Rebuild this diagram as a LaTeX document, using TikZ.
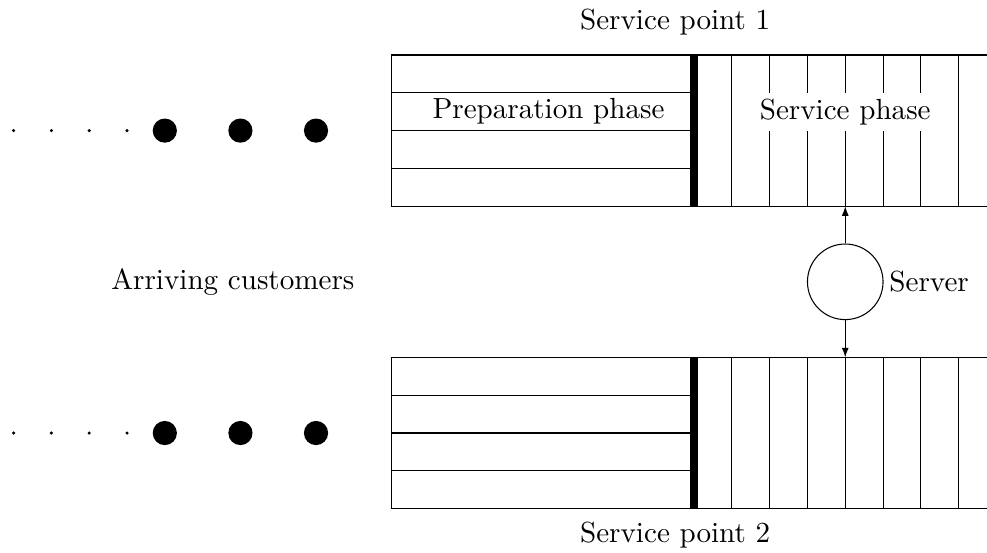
\documentclass[tikz,border=0pt]{standalone}
\usetikzlibrary{arrows.meta}
\begin{document}
\begin{tikzpicture}[x=0.5cm,y=0.5cm,
  every node/.style={font=\fontsize{10.95}{13.6}\selectfont},
  thin line/.style={line width=0.4pt},
  divider/.style={line width=2.8pt},
  bigdot/.style={fill=black},
  smalldot/.style={fill=black},
  label box/.style={fill=white,inner ysep=0pt,minimum height=1*0.5cm},
  conn/.style={-{Latex[length=3.6pt,width=2.6pt]},line width=0.4pt}]
\useasboundingbox (-10.36,-13.15) rectangle (15.75,1.455);
\clip (-10.36,-13.15) rectangle (15.75,1.455);

% ---- Service point boxes ----
\foreach \oy/\nm in {0/A,-8/B}{
  \draw[thin line] (0,\oy) rectangle (16.5,\oy-4);
  \foreach \r in {1,2,3}{
    \draw[thin line] (0,\oy-\r) -- (8,\oy-\r);
  }
  \foreach \c in {9,...,15}{
    \draw[thin line] (\c,\oy) -- (\c,\oy-4);
  }
  \draw[divider] (8,\oy) -- (8,\oy-4);
  % arriving customers dots
  \foreach \d in {-6,-4,-2}{
    \fill[bigdot] (\d,\oy-2) circle (0.32);
  }
  \foreach \d in {-10,-9,-8,-7}{
    \fill[smalldot] (\d,\oy-2) circle (0.65pt);
  }
}

% ---- labels ----
\node[label box] (sphase) at (12,-1.5) {Service phase};
\node (pphase) at (4.15,-1.5) {Preparation phase};
\node (sp1) at (7.5,0.87) {Service point 1};
\node (sp2) at (7.5,-12.7) {Service point 2};
\node (arr) at (-4.2,-6) {Arriving customers};

% ---- server ----
\node[draw,circle,minimum size=2*0.5cm,inner sep=0pt] (srv) at (12,-6) {};
\node[anchor=west,inner sep=2pt] (srvlab) at (srv.east) {Server};
\coordinate (t1) at (12,-4);
\coordinate (t2) at (12,-8);
\draw[conn] (srv.north) -- (t1);
\draw[conn] (srv.south) -- (t2);
\end{tikzpicture}
\end{document}
